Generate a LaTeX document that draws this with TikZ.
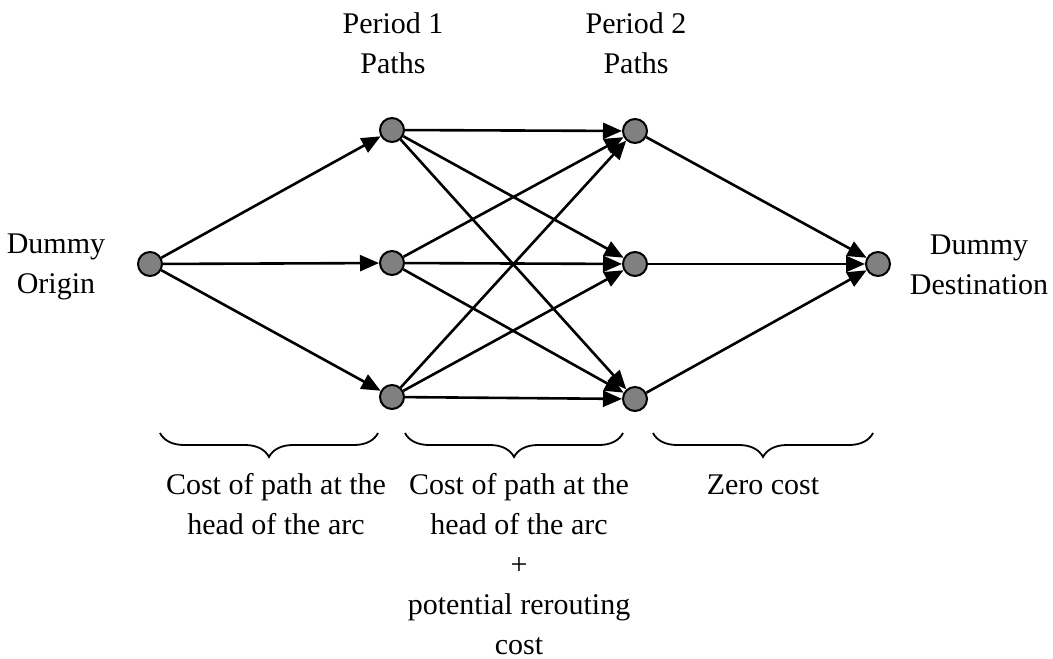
\documentclass[tikz,border=0pt]{standalone}
\usepackage{fontspec}
\setmainfont{Liberation Serif}
\usetikzlibrary{arrows.meta,decorations.pathreplacing}
\begin{document}
\begin{tikzpicture}[x=1pt,y=-1pt,
  vertex/.style={circle,draw=black,fill=black!50,line width=2pt,minimum size=24pt,inner sep=0pt},
  arc/.style={line width=2.6pt,-{Triangle[length=19pt,width=16pt]}},
  lbl/.style={anchor=base,inner sep=0pt,align=center,font=\fontsize{30}{40}\selectfont},
  curly/.style={decorate,decoration={brace,amplitude=24pt},line width=1.8pt}]
\useasboundingbox (0,0) rectangle (1053,659);

% network nodes
\node[vertex] (o)  at (150,264) {};
\node[vertex] (a1) at (392,130) {};
\node[vertex] (a2) at (392,263) {};
\node[vertex] (a3) at (392,397) {};
\node[vertex] (b1) at (635,131) {};
\node[vertex] (b2) at (635,264) {};
\node[vertex] (b3) at (635,399) {};
\node[vertex] (d)  at (878,264) {};

% arcs
\foreach \a in {a1,a2,a3} \draw[arc] (o) -- (\a);
\foreach \a in {a1,a2,a3}
  \foreach \b in {b1,b2,b3} \draw[arc] (\a) -- (\b);
\foreach \b in {b1,b2,b3} \draw[arc] (\b) -- (d);

% column headings (anchored at the baseline of the last line)
\node[lbl] (h1) at (393,73) {Period 1\\Paths};
\node[lbl] (h2) at (636,73) {Period 2\\Paths};
\node[lbl] (ol) at (56,293) {Dummy\\Origin};
\node[lbl] (dl) at (979,294) {Dummy\\Destination};

% cost braces
\coordinate (c1r) at (378,433); \coordinate (c1l) at (160,433);
\coordinate (c2r) at (623,433); \coordinate (c2l) at (405,433);
\coordinate (c3r) at (873,433); \coordinate (c3l) at (653,433);
\draw[curly] (c1r) -- (c1l);
\draw[curly] (c2r) -- (c2l);
\draw[curly] (c3r) -- (c3l);

% cost labels, first lines on a common baseline
\node[lbl] (t1) at (276,534) {Cost of path at the\\head of the arc};
\node[lbl] (t2) at (519,654) {Cost of path at the\\head of the arc\\+\\potential rerouting\\cost};
\node[lbl] (t3) at (763,494) {Zero cost};
\end{tikzpicture}
\end{document}
